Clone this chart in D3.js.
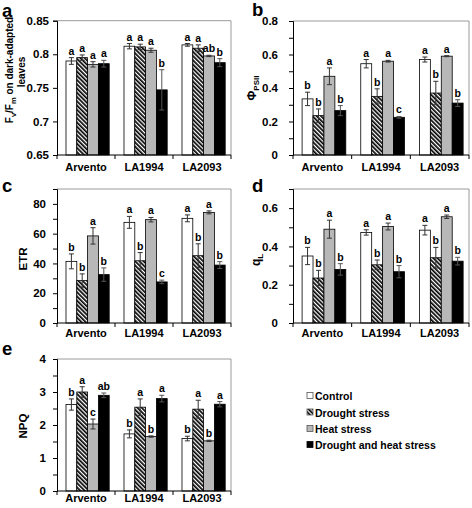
<!DOCTYPE html>
<html><head><meta charset="utf-8">
<script src="https://cdn.jsdelivr.net/npm/d3@7"></script>
<style>
body{margin:0;background:#fff;}
svg{display:block;font-family:"Liberation Sans",Arial,sans-serif;font-weight:bold;}
</style></head>
<body>
<svg id="chart" width="472" height="508"></svg>
<script>
const categories = ["Arvento","LA1994","LA2093"];
const treatments = ["Control","Drought stress","Heat stress","Drought and heat stress"];

// Panel a: Fv/Fm
const fvfmValues = [[0.790,0.812,0.814],[0.795,0.811,0.809],[0.785,0.806,0.7975],[0.786,0.747,0.7875]];
const fvfmErrors = [[0.005,0.004,0.002],[0.004,0.004,0.005],[0.004,0.003,0.001],[0.005,0.030,0.006]];
const fvfmLetters = [["a","a","a"],["a","a","a"],["a","a","ab"],["a","b","b"]];
const fvfmTicks = [0.65,0.7,0.75,0.8,0.85];
const fvfmTickLabels = ["0.65","0.7","0.75","0.8","0.85"];

// Panel b: PhiPSII
const phiValues = [[0.335,0.545,0.57],[0.235,0.35,0.37],[0.47,0.56,0.59],[0.265,0.225,0.31]];
const phiErrors = [[0.04,0.025,0.015],[0.04,0.045,0.07],[0.05,0.005,0.003],[0.03,0.005,0.02]];
const phiLetters = [["b","a","a"],["b","b","b"],["a","a","a"],["b","c","b"]];
const phiTicks = [0,0.1,0.2,0.3,0.4,0.5,0.6,0.7,0.8];
const phiTickLabels = ["0","","0.2","","0.4","","0.6","","0.8"];

// Panel c: ETR
const etrValues = [[41.4,67.6,70.3],[28.5,41.8,45.2],[58.5,69.4,74.3],[32.5,27.6,38.9]];
const etrErrors = [[5,4,2.3],[4.5,5.5,8],[5.5,1.5,1],[4.5,1.2,2.3]];
const etrLetters = [["b","a","a"],["b","b","b"],["a","a","a"],["b","c","b"]];
const etrTicks = [0,10,20,30,40,50,60,70,80,90];
const etrTickLabels = ["0","","20","","40","","60","","80",""];

// Panel d: qL
const qlValues = [[0.35,0.473,0.485],[0.235,0.304,0.341],[0.49,0.504,0.555],[0.28,0.268,0.323]];
const qlErrors = [[0.045,0.014,0.025],[0.04,0.025,0.054],[0.047,0.018,0.009],[0.03,0.032,0.02]];
const qlLetters = [["b","a","a"],["b","b","b"],["a","a","a"],["b","b","b"]];
const qlTicks = [0,0.1,0.2,0.3,0.4,0.5,0.6,0.7];
const qlTickLabels = ["0","","0.2","","0.4","","0.6",""];

// Panel e: NPQ
const npqValues = [[2.62,1.73,1.59],[3.0,2.54,2.48],[2.03,1.65,1.52],[2.9,2.8,2.63]];
const npqErrors = [[0.17,0.12,0.07],[0.16,0.25,0.27],[0.15,0.02,0.02],[0.07,0.1,0.08]];
const npqLetters = [["b","b","b"],["a","a","a"],["c","b","b"],["ab","a","a"]];
const npqTicks = [0,0.5,1,1.5,2,2.5,3,3.5,4];
const npqTickLabels = ["0","","1","","2","","3","","4"];

const fills = ["#ffffff","url(#hatch)","#b8b8b8","#000000"];

const svg = d3.select("#chart");
const defs = svg.append("defs");
const pat = defs.append("pattern").attr("id","hatch").attr("patternUnits","userSpaceOnUse")
  .attr("width",3).attr("height",3).attr("patternTransform","rotate(-45)");
pat.append("rect").attr("width",3).attr("height",3).attr("fill","#fff");
pat.append("rect").attr("width",1.7).attr("height",3).attr("fill","#000");

const panels = [
  {letter:"a", lx:2, ly:17, left:57, right:231, top:20.7, bottom:155, domain:[0.65,0.85],
   values:fvfmValues, errors:fvfmErrors, letters:fvfmLetters, ticks:fvfmTicks, tickLabels:fvfmTickLabels,
   tickPad:4, catY:171, title:"fvfm"},
  {letter:"b", lx:252, ly:16, left:293, right:469, top:21, bottom:155, domain:[0,0.8],
   values:phiValues, errors:phiErrors, letters:phiLetters, ticks:phiTicks, tickLabels:phiTickLabels,
   tickPad:11, catY:171, title:"phi", tx:256, ty:88},
  {letter:"c", lx:2, ly:192, left:57, right:231, top:189, bottom:323, domain:[0,90],
   values:etrValues, errors:etrErrors, letters:etrLetters, ticks:etrTicks, tickLabels:etrTickLabels,
   tickPad:7, catY:337, title:"ETR", tx:27, ty:259},
  {letter:"d", lx:252, ly:192, left:293, right:469, top:189, bottom:323, domain:[0,0.7],
   values:qlValues, errors:qlErrors, letters:qlLetters, ticks:qlTicks, tickLabels:qlTickLabels,
   tickPad:11, catY:337, title:"qL", tx:260, ty:260},
  {letter:"e", lx:2, ly:355, left:57, right:231, top:359, bottom:491, domain:[0,4],
   values:npqValues, errors:npqErrors, letters:npqLetters, ticks:npqTicks, tickLabels:npqTickLabels,
   tickPad:7, catY:502, title:"NPQ", tx:27, ty:426}
];

panels.forEach(p => {
  const g = svg.append("g");
  const x0 = d3.scaleBand().domain(categories).range([p.left,p.right]).padding(0);
  const bw = x0.bandwidth();
  const x1 = d3.scaleBand().domain(d3.range(treatments.length)).range([bw*0.155, bw*0.9]).padding(0);
  const y = d3.scaleLinear().domain(p.domain).range([p.bottom,p.top]);

  g.append("path").attr("d",`M${p.left},${p.top}H${p.right}V${p.bottom}`)
    .attr("fill","none").attr("stroke","#9a9a9a").attr("stroke-width",1);

  treatments.forEach((t,ti) => {
    categories.forEach((c,ci) => {
      const v = p.values[ti][ci];
      const bx = x0(c) + x1(ti);
      g.append("rect").attr("x",bx).attr("y",y(v)).attr("width",x1.bandwidth())
        .attr("height",y(p.domain[0]) - y(v)).attr("fill",fills[ti])
        .attr("stroke","#000").attr("stroke-width",0.8);
    });
  });
  treatments.forEach((t,ti) => {
    categories.forEach((c,ci) => {
      const v = p.values[ti][ci], e = p.errors[ti][ci];
      const cx = x0(c) + x1(ti) + x1.bandwidth()/2;
      const col = ti===3 ? "#555" : "#333";
      g.append("line").attr("x1",cx).attr("x2",cx).attr("y1",y(v+e)).attr("y2",y(Math.max(p.domain[0],v-e)))
        .attr("stroke",col).attr("stroke-width",1);
      [v+e, v-e].forEach(yy => {
        g.append("line").attr("x1",cx-2.5).attr("x2",cx+2.5).attr("y1",y(yy)).attr("y2",y(yy))
          .attr("stroke",col).attr("stroke-width",1);
      });
      g.append("text").attr("x",cx).attr("y",y(v+e)-3).attr("text-anchor","middle")
        .attr("font-size",10.5).attr("fill","#000").text(p.letters[ti][ci]);
    });
  });

  const yAxis = d3.axisLeft(y).tickValues(p.ticks).tickSize(4).tickPadding(p.tickPad)
    .tickFormat((d,i) => p.tickLabels[i]);
  const ya = g.append("g").attr("transform",`translate(${p.left},0)`).call(yAxis);
  ya.selectAll("text").attr("font-size",11.5).attr("font-family","Liberation Sans, Arial, sans-serif")
    .attr("font-weight","bold").attr("fill","#000");
  ya.selectAll("line,path").attr("stroke","#000");

  g.append("line").attr("x1",p.left).attr("x2",p.right).attr("y1",p.bottom).attr("y2",p.bottom)
    .attr("stroke","#000").attr("stroke-width",1);
  categories.forEach((c,ci) => {
    const xb = x0(c);
    g.append("line").attr("x1",xb).attr("x2",xb).attr("y1",p.bottom).attr("y2",p.bottom+4).attr("stroke","#000");
    g.append("text").attr("x",xb+bw/2).attr("y",p.catY).attr("text-anchor","middle")
      .attr("font-size",11).attr("fill","#000").text(c);
  });
  g.append("line").attr("x1",p.right).attr("x2",p.right).attr("y1",p.bottom).attr("y2",p.bottom+4).attr("stroke","#000");

  svg.append("text").attr("x",p.lx).attr("y",p.ly).attr("font-size",18.5).attr("fill","#000").text(p.letter);

  if (p.title === "fvfm") {
    const t1 = svg.append("text").attr("transform","translate(13,70) rotate(-90)")
      .attr("text-anchor","middle").attr("font-size",10).attr("fill","#000");
    t1.append("tspan").text("F");
    t1.append("tspan").attr("font-size",7.5).attr("dy",2.5).text("v");
    t1.append("tspan").attr("dy",-2.5).text("/F");
    t1.append("tspan").attr("font-size",7.5).attr("dy",2.5).text("m");
    t1.append("tspan").attr("dy",-2.5).text(" on dark-adapted");
    svg.append("text").attr("transform","translate(25,72) rotate(-90)")
      .attr("text-anchor","middle").attr("font-size",10).attr("fill","#000").text("leaves");
  } else if (p.title === "phi") {
    const t = svg.append("text").attr("transform",`translate(${p.tx},${p.ty}) rotate(-90)`)
      .attr("text-anchor","middle").attr("font-size",12).attr("fill","#000");
    t.append("tspan").text("Φ");
    t.append("tspan").attr("font-size",8).attr("dy",3).text("PSII");
  } else if (p.title === "qL") {
    const t = svg.append("text").attr("transform",`translate(${p.tx},${p.ty}) rotate(-90)`)
      .attr("text-anchor","middle").attr("font-size",12).attr("fill","#000");
    t.append("tspan").text("q");
    t.append("tspan").attr("font-size",8).attr("dy",3).text("L");
  } else {
    svg.append("text").attr("transform",`translate(${p.tx},${p.ty}) rotate(-90)`)
      .attr("text-anchor","middle").attr("font-size",11.5).attr("fill","#000").text(p.title);
  }
});

const legend = svg.append("g");
const legendY = [396, 412.5, 429, 445];
treatments.forEach((t,i) => {
  legend.append("rect").attr("x",307).attr("y",legendY[i]-3.5).attr("width",6).attr("height",6)
    .attr("fill",fills[i]).attr("stroke",i===3?"#000":"#555").attr("stroke-width",0.8);
  legend.append("text").attr("x",315).attr("y",legendY[i]+4).attr("font-size",10.5)
    .attr("fill","#000").text(t);
});
</script>
</body></html>
